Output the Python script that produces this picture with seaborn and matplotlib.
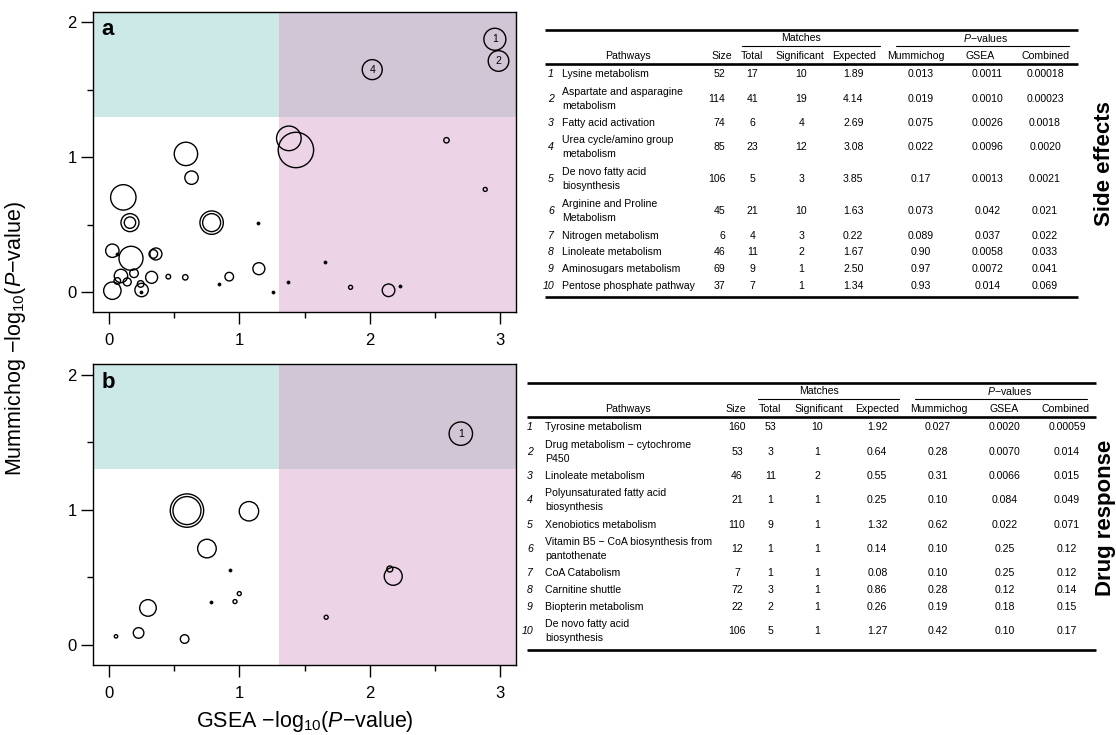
import numpy as np
import pandas as pd
import seaborn as sns
import matplotlib.pyplot as plt

W, H = 1116, 735  # output size in px (dpi 100)

# ---- panel a (side effects): -log10 P of GSEA / mummichog, bubble radius in px ----
a_gsea = [2.958, 2.986, 2.018, 1.379, 1.433, 2.587, 2.884, 0.590, 0.633, 0.110,
          0.161, 0.161, 0.787, 0.787, 1.142, 0.026, 0.059, 0.169, 0.360, 0.340,
          0.026, 0.092, 0.064, 0.140, 0.192, 0.243, 0.250, 0.248, 0.327, 0.455,
          0.585, 0.843, 0.922, 1.149, 1.254, 1.374, 1.658, 1.852, 2.143, 2.230]
a_mummichog = [1.874, 1.713, 1.649, 1.140, 1.054, 1.126, 0.762, 1.025, 0.849, 0.703,
               0.516, 0.516, 0.516, 0.516, 0.511, 0.308, 0.284, 0.252, 0.284, 0.284,
               0.012, 0.121, 0.084, 0.077, 0.141, 0.062, 0.017, 0.000, 0.111, 0.116,
               0.111, 0.062, 0.116, 0.175, 0.000, 0.074, 0.224, 0.037, 0.015, 0.047]
a_radius = [11.0, 10.3, 10.0, 12.3, 17.7, 2.7, 2.0, 11.7, 6.7, 12.7,
            9.0, 5.7, 11.7, 9.0, 1.0, 6.7, 1.0, 12.0, 6.0, 4.3,
            8.7, 6.7, 3.3, 4.0, 4.3, 3.3, 6.7, 1.0, 6.0, 2.3,
            2.7, 1.0, 4.3, 6.0, 1.0, 1.0, 1.0, 2.0, 6.3, 1.0]
a_label = ["1", "2", "4"] + [""] * 37

# ---- panel b (drug response) ----
b_gsea = [2.697, 2.153, 2.179, 1.073, 1.665, 0.598, 0.598, 0.925, 0.751, 0.999,
          0.966, 0.782, 0.299, 0.227, 0.054, 0.580]
b_mummichog = [1.563, 0.562, 0.508, 0.989, 0.205, 0.994, 0.994, 0.557, 0.713, 0.380,
               0.321, 0.321, 0.274, 0.089, 0.064, 0.044]
b_radius = [11.7, 3.0, 9.0, 9.7, 2.0, 16.7, 14.0, 1.0, 9.3, 2.0,
            2.0, 1.0, 8.3, 5.3, 1.7, 4.3]
b_label = ["1"] + [""] * 15

# ---- table a ----
a_pathways = ["Lysine metabolism", "Aspartate and asparagine\nmetabolism",
              "Fatty acid activation", "Urea cycle/amino group\nmetabolism",
              "De novo fatty acid\nbiosynthesis", "Arginine and Proline\nMetabolism",
              "Nitrogen metabolism", "Linoleate metabolism",
              "Aminosugars metabolism", "Pentose phosphate pathway"]
a_size = [52, 114, 74, 85, 106, 45, 6, 46, 69, 37]
a_total = [17, 41, 6, 23, 5, 21, 4, 11, 9, 7]
a_significant = [10, 19, 4, 12, 3, 10, 3, 2, 1, 1]
a_expected = ["1.89", "4.14", "2.69", "3.08", "3.85", "1.63", "0.22", "1.67", "2.50", "1.34"]
a_p_mummichog = ["0.013", "0.019", "0.075", "0.022", "0.17", "0.073", "0.089", "0.90", "0.97", "0.93"]
a_p_gsea = ["0.0011", "0.0010", "0.0026", "0.0096", "0.0013", "0.042", "0.037", "0.0058", "0.0072", "0.014"]
a_p_combined = ["0.00018", "0.00023", "0.0018", "0.0020", "0.0021", "0.021", "0.022", "0.033", "0.041", "0.069"]

# ---- table b ----
b_pathways = ["Tyrosine metabolism", "Drug metabolism \u2212 cytochrome\nP450",
              "Linoleate metabolism", "Polyunsaturated fatty acid\nbiosynthesis",
              "Xenobiotics metabolism", "Vitamin B5 \u2212 CoA biosynthesis from\npantothenate",
              "CoA Catabolism", "Carnitine shuttle", "Biopterin metabolism",
              "De novo fatty acid\nbiosynthesis"]
b_size = [160, 53, 46, 21, 110, 12, 7, 72, 22, 106]
b_total = [53, 3, 11, 1, 9, 1, 1, 3, 2, 5]
b_significant = [10, 1, 2, 1, 1, 1, 1, 1, 1, 1]
b_expected = ["1.92", "0.64", "0.55", "0.25", "1.32", "0.14", "0.08", "0.86", "0.26", "1.27"]
b_p_mummichog = ["0.027", "0.28", "0.31", "0.10", "0.62", "0.10", "0.10", "0.28", "0.19", "0.42"]
b_p_gsea = ["0.0020", "0.0070", "0.0066", "0.084", "0.022", "0.25", "0.25", "0.12", "0.18", "0.10"]
b_p_combined = ["0.00059", "0.014", "0.015", "0.049", "0.071", "0.12", "0.12", "0.14", "0.15", "0.17"]

headers = ["Pathways", "Size", "Total", "Significant", "Expected", "Mummichog", "GSEA", "Combined"]

sns.set_style("ticks")
plt.rcParams["font.family"] = ["Liberation Sans", "DejaVu Sans"]
plt.rcParams["mathtext.fontset"] = "custom"
plt.rcParams["mathtext.rm"] = "Liberation Sans"
plt.rcParams["mathtext.it"] = "Liberation Sans:italic"
plt.rcParams["mathtext.bf"] = "Liberation Sans:bold"
for key in ["text.color", "axes.labelcolor", "xtick.color", "ytick.color", "axes.edgecolor"]:
    plt.rcParams[key] = "black"

THR = -np.log10(0.05)
XLIM = (-0.12, 3.12)
YLIM = (-0.148, 2.078)
C_TEAL, C_PURPLE, C_PINK = "#cce9e7", "#d1c6d6", "#edd3e6"


def px(x, y):
    return x / W, 1 - y / H


def draw_panel(ax, gx, my, rad, lab, tag):
    df = pd.DataFrame({"gsea": gx, "mummichog": my, "radius": rad, "label": lab})
    df["area"] = (2 * df["radius"] * 0.72) ** 2  # px radius -> pt^2 marker area
    ax.set_xlim(*XLIM)
    ax.set_ylim(*YLIM)
    # significance quadrants
    ax.fill_between([XLIM[0], THR], THR, YLIM[1], color=C_TEAL, lw=0, zorder=0)
    ax.fill_between([THR, XLIM[1]], THR, YLIM[1], color=C_PURPLE, lw=0, zorder=0)
    ax.fill_between([THR, XLIM[1]], YLIM[0], THR, color=C_PINK, lw=0, zorder=0)

    rings = df[df["radius"] > 1.2]
    dots = df[df["radius"] <= 1.2]
    sns.scatterplot(data=rings, x="gsea", y="mummichog", s=rings["area"].to_numpy(),
                    color="black", facecolor="none", edgecolor="black",
                    linewidth=1.0, legend=False, ax=ax, zorder=3)
    sns.scatterplot(data=dots, x="gsea", y="mummichog", s=5, color="black",
                    edgecolor="black", linewidth=0.5, legend=False, ax=ax, zorder=3)
    for _, r in df[df["label"] != ""].iterrows():
        ax.text(r["gsea"], r["mummichog"], r["label"], ha="center", va="center",
                fontsize=7.5, zorder=4)

    ax.text(0.02, 0.94, tag, transform=ax.transAxes, fontsize=16,
            fontweight="bold", ha="left", va="center")
    ax.set_xticks([0, 1, 2, 3])
    ax.set_xticks([0.5, 1.5, 2.5], minor=True)
    ax.set_yticks([0, 1, 2])
    ax.set_yticks([0.5, 1.5], minor=True)
    ax.tick_params(which="major", length=8.5, width=1.0, labelsize=12, color="black")
    ax.tick_params(which="minor", length=4.5, width=1.0, color="black")
    ax.tick_params(axis="x", which="major", pad=6.5)
    ax.tick_params(axis="y", which="major", pad=3.5)
    ax.set_xlabel("")
    ax.set_ylabel("")
    for sp in ax.spines.values():
        sp.set_linewidth(1.0)
        sp.set_color("black")


def draw_table(ax, lay, pathways, cols):
    left, right, top = lay["left"], lay["right"], lay["top"]
    fs = 7.6
    ax.plot([left, right], [top, top], color="black", lw=1.9, solid_capstyle="butt")
    # group headers
    for name, xc, (x0, x1) in [("Matches", lay["match_x"], lay["match_span"]),
                               ("$P$\u2212values", lay["pval_x"], lay["pval_span"])]:
        ax.text(xc, lay["group_y"], name, ha="center", va="center", fontsize=fs)
        ax.plot([x0, x1], [lay["under_y"], lay["under_y"]], color="black", lw=0.8)
    for h, xh in zip(headers, lay["head_x"]):
        ax.text(xh, lay["head_y"], h, ha="center", va="center", fontsize=fs)
    hl = lay["head_line"]
    ax.plot([left, right], [hl, hl], color="black", lw=1.9, solid_capstyle="butt")

    y = hl + 1.65
    for i, p in enumerate(pathways):
        h = 32.0 if "\n" in p else 16.7
        yc = y + h / 2
        ax.text(lay["num_right"], yc, str(i + 1), ha="right", va="center",
                fontsize=fs, fontstyle="italic")
        ax.text(lay["path_left"], yc, p, ha="left", va="center", fontsize=fs,
                linespacing=1.53)
        for j, col in enumerate(cols):
            ha = lay["val_ha"][j]
            ax.text(lay["val_x"][j], yc, str(col[i]), ha=ha, va="center", fontsize=fs)
        y += h
    bot = y + 2.65
    ax.plot([left, right], [bot, bot], color="black", lw=1.9, solid_capstyle="butt")


fig = plt.figure(figsize=(W / 100, H / 100), dpi=100)
ax_a = fig.add_axes([93.3 / W, 1 - 312.3 / H, 422.7 / W, 300.6 / H])
ax_b = fig.add_axes([93.3 / W, 1 - 665 / H, 422.7 / W, 301 / H])
draw_panel(ax_a, a_gsea, a_mummichog, a_radius, a_label, "a")
draw_panel(ax_b, b_gsea, b_mummichog, b_radius, b_label, "b")

fig.text(*px(304.7, 727.3), "GSEA \u2212log$_{10}$($P$\u2212value)", ha="center",
         va="baseline", fontsize=15.5)
fig.text(*px(21, 338), "Mummichog \u2212log$_{10}$($P$\u2212value)", ha="center",
         va="baseline", rotation=90, rotation_mode="anchor", fontsize=15.5)

ax_t = fig.add_axes([0, 0, 1, 1])
ax_t.set_xlim(0, W)
ax_t.set_ylim(H, 0)
ax_t.set_axis_off()

lay_a = dict(left=545, right=1078, top=29.7, group_y=38.3, under_y=45.7, head_y=56,
             head_line=64.3, match_x=801, match_span=(741.7, 880),
             pval_x=985.6, pval_span=(896.4, 1069),
             head_x=[627.7, 721.7, 752.3, 800, 854.3, 915.5, 980, 1045],
             num_right=554, path_left=562.3,
             val_x=[725.5, 752.3, 801.5, 853.3, 921, 987.5, 1045],
             val_ha=["right"] + ["center"] * 6)
lay_b = dict(left=527, right=1096, top=382.7, group_y=391.3, under_y=398.7, head_y=409,
             head_line=417.3, match_x=818.7, match_span=(758, 898.7),
             pval_x=1010, pval_span=(915, 1086.8),
             head_x=[628, 736, 770, 818.7, 877.3, 939, 1004, 1066],
             num_right=533, path_left=545.3,
             val_x=[737, 770.5, 817.5, 877.3, 937.5, 1004.5, 1067],
             val_ha=["center"] * 7)

draw_table(ax_t, lay_a, a_pathways,
           [a_size, a_total, a_significant, a_expected, a_p_mummichog, a_p_gsea, a_p_combined])
draw_table(ax_t, lay_b, b_pathways,
           [b_size, b_total, b_significant, b_expected, b_p_mummichog, b_p_gsea, b_p_combined])

fig.text(*px(1104, 163.7), "Side effects", rotation=90, ha="center", va="center",
         fontsize=16, fontweight="bold")
fig.text(*px(1105, 518), "Drug response", rotation=90, ha="center", va="center",
         fontsize=16, fontweight="bold")

fig.savefig("out.png", dpi=100)
